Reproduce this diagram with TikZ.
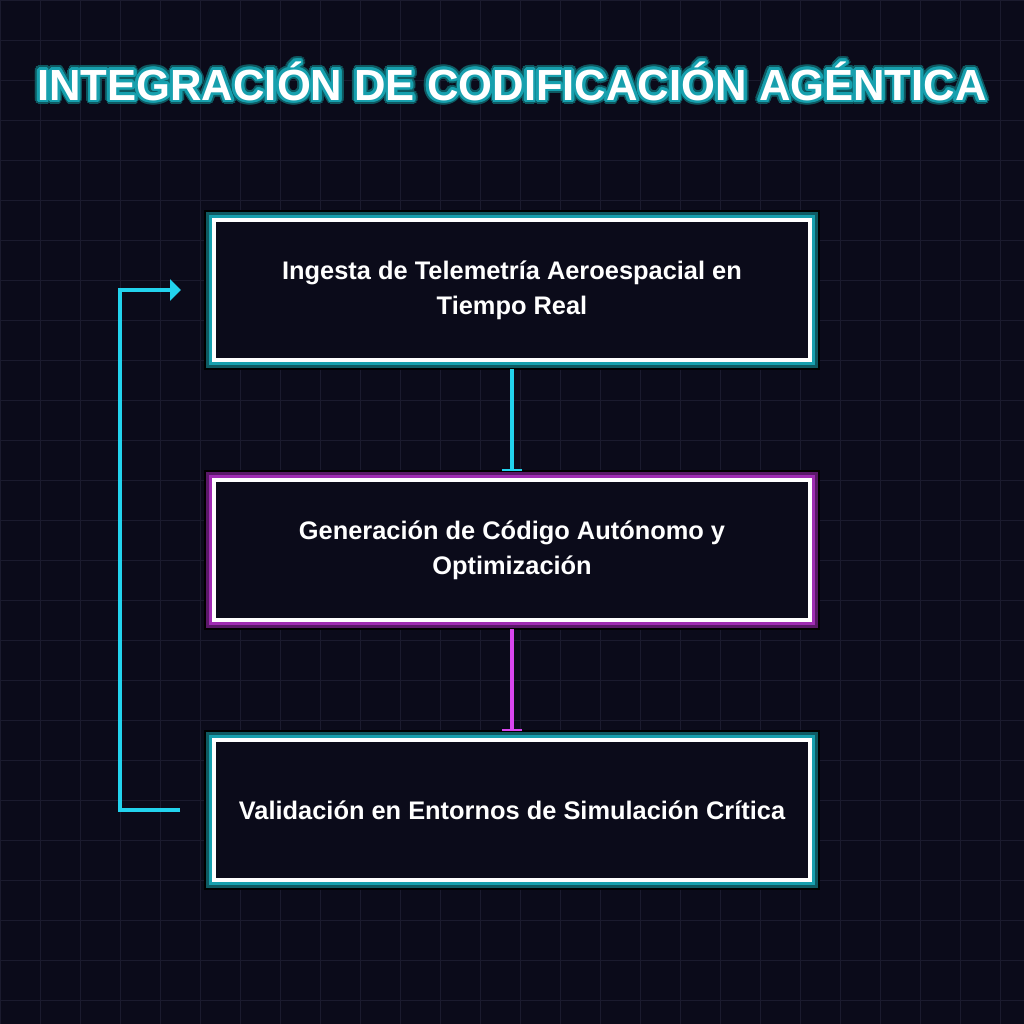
\documentclass[tikz,border=0pt]{standalone}
\usepackage{fontspec}
\setmainfont{Liberation Sans}
\usetikzlibrary{arrows.meta,positioning}

\definecolor{bgdark}{HTML}{0B0B1A}
\definecolor{gridline}{HTML}{1B1B2E}
\definecolor{cyanline}{HTML}{22D3EE}
\definecolor{magline}{HTML}{D946EF}
\definecolor{tealglow}{HTML}{17A0AE}
\definecolor{tealdark}{HTML}{0E5A62}
\definecolor{purpglow}{HTML}{A02CB3}
\definecolor{purpdark}{HTML}{5A1868}

\begin{document}
\begin{tikzpicture}[
        x=0.5pt, y=-0.5pt,
        stage/.style={draw=white, line width=2pt, fill=bgdark, text=white,
            minimum width=298pt, minimum height=70pt, outer sep=4.5pt,
            align=center, font=\bfseries\fontsize{12.7pt}{17.5pt}\selectfont},
        cyanglow/.style={preaction={draw=black, line width=10pt},
            preaction={draw=tealdark, line width=8pt},
            preaction={draw=tealglow, line width=5pt}},
        magglow/.style={preaction={draw=black, line width=10pt},
            preaction={draw=purpdark, line width=8pt},
            preaction={draw=purpglow, line width=5pt}},
        flow/.style={draw=#1, line width=2pt, -{Bar[width=10pt,line width=1pt]}},
        loopback/.style={draw=cyanline, line width=2pt, -{Triangle[length=5.5pt,width=10.5pt]}},
        titletext/.style={font=\bfseries\fontsize{21.8pt}{26pt}\selectfont, inner sep=0pt},
        node distance=51pt
    ]

    % Background and grid
    \fill[bgdark] (0,0) rectangle (1024,1024);
    \useasboundingbox (0,0) rectangle (1024,1024);
    \foreach \g in {0,40,...,1000} {
        \draw[gridline, line width=0.5pt] (\g,0) -- (\g,1024);
        \draw[gridline, line width=0.5pt] (0,\g) -- (1024,\g);
    }

    % Title with outline
    \foreach \a in {0,22.5,...,337.5} {
        \node[titletext, text=tealdark] (title-o-\a) at ([shift={(\a:2.3pt)}]512,81) {INTEGRACIÓN DE CODIFICACIÓN AGÉNTICA};
    }
    \foreach \a in {0,22.5,...,337.5} {
        \node[titletext, text=tealglow] (title-i-\a) at ([shift={(\a:1.4pt)}]512,81) {INTEGRACIÓN DE CODIFICACIÓN AGÉNTICA};
    }
    \node[titletext, text=white] (title) at (512,81) {INTEGRACIÓN DE CODIFICACIÓN AGÉNTICA};

    % Stages
    \node[stage, cyanglow] (ingest) at (512,290) {Ingesta de Telemetría Aeroespacial en\\Tiempo Real};
    \node[stage, magglow, below=of ingest] (codegen) {Generación de Código Autónomo y\\Optimización};
    \node[stage, cyanglow, below=of codegen] (validate) {Validación en Entornos de Simulación Crítica};

    % Connectors
    \draw[flow=cyanline] (ingest) -- (codegen);
    \draw[flow=magline] (codegen) -- (validate);

    % Feedback loop
    \draw[loopback] ([xshift=-12.5pt]validate.west) -- ++(-60,0) |- ([xshift=-12pt]ingest.west);

\end{tikzpicture}
\end{document}
